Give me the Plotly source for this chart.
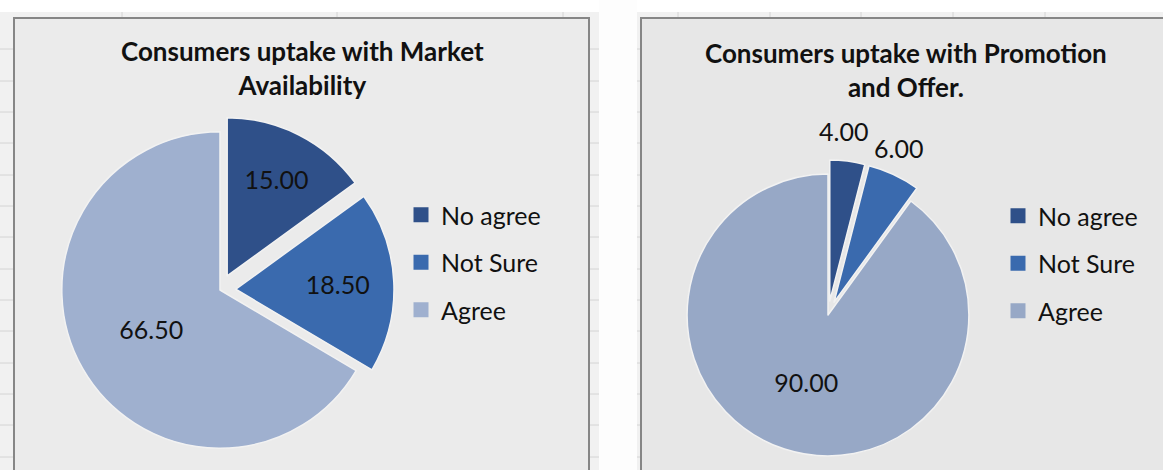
import math
import plotly.graph_objects as go

W, H = 1163, 470

labels = ["No agree", "Not Sure", "Agree"]
market_values = [15.00, 18.50, 66.50]
promo_values = [4.00, 6.00, 90.00]

market_title = "Consumers uptake with Market<br>Availability"
promo_title = "Consumers uptake with Promotion<br>and Offer."

market_colors = ["#2f5089", "#3a6aae", "#9fb0cf"]
promo_colors = ["#2f5089", "#3a6aae", "#97a8c6"]

FONT = "Lato"
TXT = dict(family=FONT, size=25, color="#111111")
TITLE = dict(family=FONT, size=26, color="#111111")
PULL = 0.1


def px(x):
    return x / W


def py(y):
    return 1 - y / H


fig = go.Figure()

# left pie
fig.add_trace(go.Pie(
    labels=labels, values=market_values, sort=False, direction="clockwise",
    marker=dict(colors=market_colors, line=dict(color="#f2f2f2", width=1.5)),
    pull=[PULL, PULL, 0],
    texttemplate="%{value:.2f}", textposition="inside",
    insidetextorientation="horizontal", textfont=TXT,
    domain=dict(x=[px(46), px(394)], y=[py(464), py(116)]),
    showlegend=False,
))

# right pie, the two thin slices get their labels as annotations below
pcx, pcy, phalf = 828, 315, 155
fig.add_trace(go.Pie(
    labels=labels, values=promo_values, sort=False, direction="clockwise",
    marker=dict(colors=promo_colors, line=dict(color="#f2f2f2", width=1.5)),
    pull=[PULL, PULL, 0],
    texttemplate="%{value:.2f}", textposition=["none", "none", "inside"],
    insidetextorientation="horizontal", textfont=TXT,
    domain=dict(x=[px(pcx - phalf), px(pcx + phalf)], y=[py(pcy + phalf), py(pcy - phalf)]),
    showlegend=False,
))

# legend entries (square swatches) for both charts
for i, lab in enumerate(labels):
    fig.add_trace(go.Scatter(
        x=[None], y=[None], mode="markers", name=lab,
        marker=dict(symbol="square", size=15, color=market_colors[i]),
        legend="legend", legendgroup="l" + str(i),
    ))
    fig.add_trace(go.Scatter(
        x=[None], y=[None], mode="markers", name=lab,
        marker=dict(symbol="square", size=15, color=promo_colors[i]),
        legend="legend2", legendgroup="r" + str(i),
    ))

shapes = []
# sheet background
shapes.append(dict(type="rect", xref="paper", yref="paper", x0=0, x1=1, y0=0, y1=1,
                   fillcolor="#f1f1f1", line=dict(width=0), layer="below"))
shapes.append(dict(type="rect", xref="paper", yref="paper", x0=0, x1=1, y0=py(12), y1=1,
                   fillcolor="white", line=dict(width=0), layer="below"))
shapes.append(dict(type="rect", xref="paper", yref="paper", x0=px(599), x1=px(637), y0=0, y1=1,
                   fillcolor="#fdfdfd", line=dict(width=0), layer="below"))
# sheet gridlines
for gy in [49, 81, 112, 143, 175, 206, 237, 269, 300, 331, 363, 394, 425, 457]:
    for x0, x1 in [(0, 14), (589, 599), (637, 641)]:
        shapes.append(dict(type="line", xref="paper", yref="paper", x0=px(x0), x1=px(x1),
                           y0=py(gy), y1=py(gy), line=dict(color="#d4d4d4", width=1), layer="below"))
for gx in [122, 337, 563, 678, 770, 861, 953, 1045]:
    shapes.append(dict(type="line", xref="paper", yref="paper", x0=px(gx), x1=px(gx),
                       y0=py(12), y1=py(18), line=dict(color="#d4d4d4", width=1), layer="below"))
# chart panels
shapes.append(dict(type="rect", xref="paper", yref="paper", x0=px(14), x1=px(589), y0=py(475), y1=py(18),
                   fillcolor="#ebebeb", line=dict(color="#868686", width=2), layer="below"))
shapes.append(dict(type="rect", xref="paper", yref="paper", x0=px(641), x1=px(1175), y0=py(475), y1=py(18),
                   fillcolor="#e7e7e7", line=dict(color="#868686", width=2), layer="below"))

annotations = [
    dict(text="<b>" + market_title + "</b>", x=px(302), y=py(68), xref="paper", yref="paper",
         xanchor="center", yanchor="middle", showarrow=False, font=TITLE, align="center"),
    dict(text="<b>" + promo_title + "</b>", x=px(906), y=py(70), xref="paper", yref="paper",
         xanchor="center", yanchor="middle", showarrow=False, font=TITLE, align="center"),
]

# outside labels for the thin slices, placed along each slice's middle angle
pr = phalf / (1 + PULL)
total = sum(promo_values)
start = 0.0
for v in promo_values[:2]:
    mid = (start + v / 2) / total * 2 * math.pi
    start += v
    rl = pr * (1 + PULL) + 30
    annotations.append(dict(
        text="%.2f" % v, x=px(pcx + rl * math.sin(mid) - 8), y=py(pcy - rl * math.cos(mid)),
        xref="paper", yref="paper", xanchor="center", yanchor="middle",
        showarrow=False, font=TXT,
    ))

fig.update_layout(
    width=W, height=H,
    margin=dict(l=0, r=0, t=0, b=0, autoexpand=False),
    paper_bgcolor="white", plot_bgcolor="rgba(0,0,0,0)",
    xaxis=dict(visible=False), yaxis=dict(visible=False),
    shapes=shapes, annotations=annotations,
    legend=dict(x=px(401), y=py(192), xanchor="left", yanchor="top",
                bgcolor="rgba(0,0,0,0)", tracegroupgap=12, font=TXT),
    legend2=dict(x=px(998), y=py(193), xanchor="left", yanchor="top",
                 bgcolor="rgba(0,0,0,0)", tracegroupgap=12, font=TXT),
    hovermode=False,
)

fig.write_html("out.html", config={"displayModeBar": False},
               post_script="document.body.style.margin='0';")
